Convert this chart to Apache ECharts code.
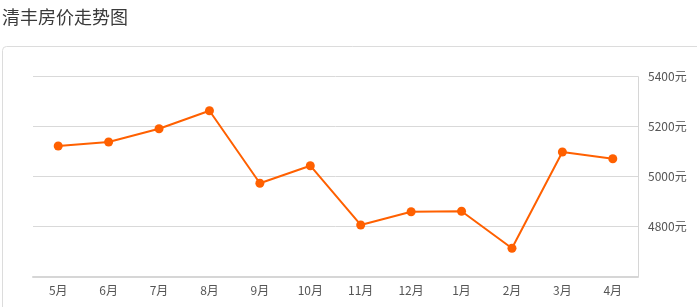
<!DOCTYPE html>
<html><head><meta charset="utf-8">
<script src="https://cdn.jsdelivr.net/npm/echarts@6/dist/echarts.min.js"></script>
<style>html,body{margin:0;padding:0;background:#fff;}#c{width:697px;height:307px;}</style>
</head><body><div id="c"></div>
<script>
const titleText = '清丰房价走势图';
const categories = ['5月','6月','7月','8月','9月','10月','11月','12月','1月','2月','3月','4月'];
const prices = [5123, 5139, 5192, 5264, 4974, 5044, 4807, 4860, 4862, 4714, 5099, 5072];
const yMin = 4600, yMax = 5400, yStep = 200;

const chart = echarts.init(document.getElementById('c'), null, {renderer:'canvas'});
chart.setOption({
  animation: false,
  title: {
    text: titleText, left: 2, top: 8, padding: 0,
    textStyle: {fontSize: 18, fontWeight: 'normal', color: '#3a3a3a', fontFamily: 'Noto Sans CJK SC'}
  },
  graphic: [{
    type: 'rect',
    shape: {x: 2.5, y: 46.5, width: 720, height: 300, r: 4},
    style: {fill: 'none', stroke: '#dcdcdc', lineWidth: 1},
    silent: true, z: -1
  }],
  grid: {left: 33, right: 59, top: 76.7, bottom: 30.3},
  xAxis: {
    type: 'category', data: categories, boundaryGap: true,
    axisLine: {lineStyle: {color: '#d6d6d6', width: 2}},
    axisTick: {alignWithLabel: true, length: 4, lineStyle: {color: '#d6d6d6'}},
    axisLabel: {color: '#555', fontSize: 12, margin: 8, fontFamily: 'Noto Sans CJK SC'}
  },
  yAxis: {
    type: 'value', position: 'right', min: yMin, max: yMax, interval: yStep,
    axisLine: {show: true, lineStyle: {color: '#d6d6d6', width: 1}},
    axisTick: {show: false},
    splitLine: {lineStyle: {color: '#d9d9d9'}},
    axisLabel: {
      color: '#555', fontSize: 12, margin: 10, fontFamily: 'Noto Sans CJK SC',
      formatter: v => v === yMin ? '' : v + '元'
    }
  },
  series: [{
    type: 'line', data: prices,
    symbol: 'circle', symbolSize: 9,
    lineStyle: {color: '#ff6000', width: 2},
    itemStyle: {color: '#ff6000'}
  }]
});
</script></body></html>
